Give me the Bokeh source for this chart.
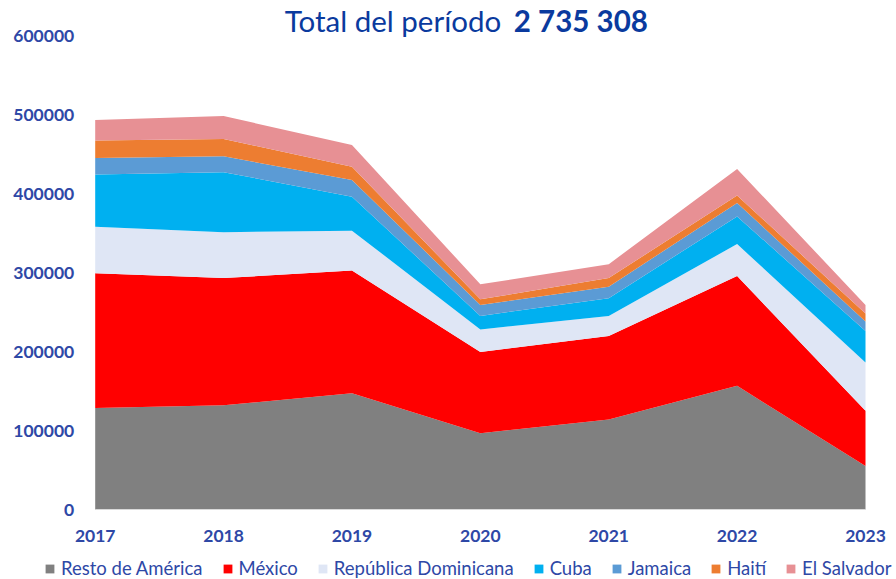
from bokeh.plotting import figure
from bokeh.models import (ColumnDataSource, Range1d, FixedTicker, Label, Legend,
                          LegendItem, BasicTickFormatter)
from bokeh.embed import file_html
from bokeh.resources import INLINE

years = [2017, 2018, 2019, 2020, 2021, 2022, 2023]
series_names = ["Resto de América", "México", "República Dominicana", "Cuba",
                "Jamaica", "Haití", "El Salvador"]
resto = [128500, 132000, 147000, 96500, 114000, 156500, 55000]
mexico = [170500, 161000, 155500, 103000, 105500, 139000, 70000]
rep_dom = [59000, 58000, 50500, 28500, 25500, 40500, 61000]
cuba = [66000, 76000, 43000, 17000, 22500, 35000, 40000]
jamaica = [21000, 20000, 21000, 14000, 14500, 17000, 12000]
haiti = [22000, 22000, 17000, 7000, 11000, 9500, 10000]
el_salvador = [26000, 29000, 27500, 19000, 17500, 33500, 11000]
y_ticks = [0, 100000, 200000, 300000, 400000, 500000, 600000]
title_text = "Total del período"
title_total = "2 735 308"

colors = ["#808080", "#FF0000", "#DFE6F5", "#00B0F0", "#5B9BD5", "#ED7D31", "#E79094"]
keys = ["resto", "mexico", "rep_dom", "cuba", "jamaica", "haiti", "el_salvador"]
source = ColumnDataSource(dict(x=years, resto=resto, mexico=mexico, rep_dom=rep_dom,
                               cuba=cuba, jamaica=jamaica, haiti=haiti,
                               el_salvador=el_salvador))

FONT = "Lato"
BLUE = "#2E48A6"
W, H = 896, 579
X0_PX, X1_PX = 94.7, 865.0     # pixel positions of 2017 and 2023
Y0_PX, Y6_PX = 509.0, 35.0     # pixel positions of 0 and 600000
XU = (2023 - 2017) / (X1_PX - X0_PX)
YU = 600000 / (Y0_PX - Y6_PX)

p = figure(width=W, height=H, output_backend="svg", toolbar_location=None,
           x_range=Range1d(2017 - X0_PX * XU, 2017 + (W - X0_PX) * XU),
           y_range=Range1d(-(H - Y0_PX) * YU, 600000 + Y6_PX * YU),
           min_border=0)
p.outline_line_color = None
p.xgrid.grid_line_color = None
p.ygrid.grid_line_color = None

renderers = p.varea_stack(stackers=keys, x="x", color=colors, source=source)

# axes, fixed at the data origin
p.xaxis.fixed_location = 0
p.xaxis.bounds = (2017, 2023)
p.xaxis.ticker = FixedTicker(ticks=years)
p.xaxis.formatter = BasicTickFormatter(use_scientific=False)
p.xaxis.axis_line_color = "#D9D9D9"
p.xaxis.axis_line_width = 1
p.xaxis.major_tick_line_color = None
p.xaxis.minor_tick_line_color = None
p.xaxis.major_label_standoff = 14
p.yaxis.fixed_location = 2017
p.yaxis.bounds = (0, 600000)
p.yaxis.ticker = FixedTicker(ticks=y_ticks)
p.yaxis.formatter = BasicTickFormatter(use_scientific=False)
p.yaxis.axis_line_color = None
p.yaxis.major_tick_line_color = None
p.yaxis.minor_tick_line_color = None
p.yaxis.major_label_standoff = 15
for ax in (p.xaxis, p.yaxis):
    ax.major_label_text_font = FONT
    ax.major_label_text_font_style = "bold"
    ax.major_label_text_font_size = "17.5px"
    ax.major_label_text_color = BLUE

# title as two labels
TITLE_Y = 600000 + 15 * YU
p.add_layout(Label(x=2017 + (500.7 - X0_PX) * XU, y=TITLE_Y, text=title_text,
                   text_align="right", text_baseline="alphabetic", text_font=FONT,
                   text_font_size="29.5px", text_color="#0A3A9E"))
p.add_layout(Label(x=2017 + (513.3 - X0_PX) * XU, y=TITLE_Y, text=title_total,
                   text_align="left", text_baseline="alphabetic", text_font=FONT,
                   text_font_size="29.5px", text_font_style="bold", text_color="#0A3A9E"))

items = [LegendItem(label=n, renderers=[r]) for n, r in zip(series_names, renderers)]
legend = Legend(items=items, orientation="horizontal", location=(44, 0),
                padding=0, margin=0, spacing=19, label_standoff=6,
                glyph_width=11, glyph_height=11, border_line_color=None,
                background_fill_alpha=0, label_text_font=FONT,
                label_text_font_size="18.5px", label_text_color=BLUE)
p.add_layout(legend, "center")

open("out.html", "w").write(file_html(p, INLINE))
